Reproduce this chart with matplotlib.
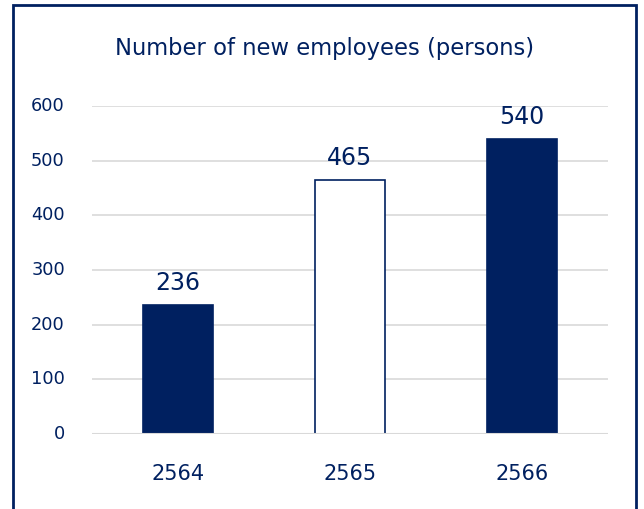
import matplotlib
matplotlib.use("Agg")
import matplotlib.pyplot as plt
from matplotlib.patches import Rectangle

# Data
years = ["2564", "2565", "2566"]
new_employees = [236, 465, 540]
y_ticks = [0, 100, 200, 300, 400, 500, 600]

NAVY = "#002060"
GRID = "#D9D9D9"

plt.rcParams["font.family"] = ["DejaVu Sans"]

fig = plt.figure(figsize=(6.44, 5.09), dpi=100)
ax = fig.add_axes([92 / 644, 75 / 509, 516 / 644, 328 / 509])

face = [NAVY, "white", NAVY]
x = range(len(years))
bars = ax.bar(x, new_employees, width=0.41, color=face, edgecolor=NAVY,
              linewidth=1.2, zorder=3)

for xi, v in zip(x, new_employees):
    ax.annotate(f"{v}", (xi, v), xytext=(0, 7), textcoords="offset points",
                ha="center", va="bottom", fontsize=17, color=NAVY)

ax.set_xlim(-0.5, len(years) - 0.5)
ax.set_ylim(0, 600)
ax.set_yticks(y_ticks)
ax.set_yticklabels([str(t) for t in y_ticks], fontsize=12.8, color=NAVY,
                   va="bottom")
ax.set_xticks(list(x))
ax.set_xticklabels(years, fontsize=15, color=NAVY)
ax.tick_params(axis="y", length=0, pad=19.5)
ax.tick_params(axis="x", length=0, pad=21.5)
for lbl in ax.get_yticklabels():
    lbl.set_va("center")
ax.yaxis.grid(True, color=GRID, linewidth=1.2, zorder=0)
ax.set_axisbelow(True)
for s in ax.spines.values():
    s.set_visible(False)
ax.axhline(0, color=GRID, linewidth=1.5, zorder=4)

fig.text(324.5 / 644, 1 - 48 / 509, "Number of new employees (persons)",
         ha="center", va="center", fontsize=16.3, color=NAVY)

# Outer frame
frame = Rectangle((13 / 644, -0.05), (636 - 13) / 644, 1.05 - 5 / 509,
                  transform=fig.transFigure, fill=False, edgecolor=NAVY,
                  linewidth=2, clip_on=False)
fig.patches.append(frame)

fig.savefig("out.png", dpi=100)
